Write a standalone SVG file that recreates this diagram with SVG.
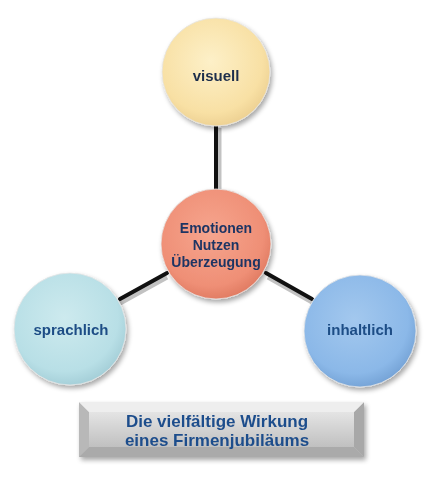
<svg xmlns="http://www.w3.org/2000/svg" width="434" height="484" viewBox="0 0 434 484">
<defs>
<radialGradient id="gY" cx="45%" cy="40%" r="60%"><stop offset="0" stop-color="#fdf0c8"/><stop offset="0.8" stop-color="#f8e0a4"/><stop offset="1" stop-color="#eed294"/></radialGradient>
<radialGradient id="gR" cx="45%" cy="40%" r="60%"><stop offset="0" stop-color="#f6a58e"/><stop offset="0.8" stop-color="#ef8f76"/><stop offset="1" stop-color="#e27d64"/></radialGradient>
<radialGradient id="gC" cx="45%" cy="40%" r="60%"><stop offset="0" stop-color="#cdeaee"/><stop offset="0.8" stop-color="#b8dfe6"/><stop offset="1" stop-color="#a6d0d9"/></radialGradient>
<radialGradient id="gB" cx="45%" cy="40%" r="60%"><stop offset="0" stop-color="#a3c8ee"/><stop offset="0.8" stop-color="#8bb8e8"/><stop offset="1" stop-color="#77a5d8"/></radialGradient>
<linearGradient id="gBan" x1="0" y1="0" x2="0" y2="1"><stop offset="0" stop-color="#e4e4e4"/><stop offset="0.5" stop-color="#d2d2d2"/><stop offset="1" stop-color="#c0c0c0"/></linearGradient>
<filter id="sh" x="-20%" y="-20%" width="150%" height="150%"><feGaussianBlur in="SourceAlpha" stdDeviation="2.5"/><feOffset dx="2" dy="3"/><feComponentTransfer><feFuncA type="linear" slope="0.35"/></feComponentTransfer><feMerge><feMergeNode/><feMergeNode in="SourceGraphic"/></feMerge></filter>
</defs>
<style>
.lbl{font-family:"Liberation Sans",Arial,sans-serif;font-weight:bold;text-anchor:middle}
.c{stroke:#e6e6e6;stroke-width:0.8}
.con{stroke:#111;stroke-width:4;stroke-linecap:round}
.conS{stroke:#9a9a9a;stroke-width:5;opacity:0.6}
</style>
<rect width="434" height="484" fill="#ffffff"/>
<g id="connectors">
<line class="conS" x1="219" y1="128" x2="219" y2="190"/>
<line class="conS" x1="167" y1="277" x2="120" y2="303"/>
<line class="conS" x1="268" y1="277" x2="314" y2="303"/>
<line class="con" x1="216" y1="126" x2="216" y2="190"/>
<line class="con" x1="167" y1="273" x2="120" y2="299"/>
<line class="con" x1="266" y1="273" x2="312" y2="299"/>
</g>
<g id="visuell" filter="url(#sh)">
<circle class="c" cx="216" cy="72" r="54" fill="url(#gY)"/>
<text class="lbl" x="216" y="81" font-size="15" fill="#1f2f4c">visuell</text>
</g>
<g id="center" filter="url(#sh)">
<circle class="c" cx="216" cy="244" r="55" fill="url(#gR)"/>
<text class="lbl" font-size="14" fill="#1f3564"><tspan x="216" y="233">Emotionen</tspan><tspan x="216" y="250">Nutzen</tspan><tspan x="216" y="267">Überzeugung</tspan></text>
</g>
<g id="sprachlich" filter="url(#sh)">
<circle class="c" cx="70" cy="329" r="56" fill="url(#gC)"/>
<text class="lbl" x="71" y="335" font-size="15" fill="#1f4e86">sprachlich</text>
</g>
<g id="inhaltlich" filter="url(#sh)">
<circle class="c" cx="360" cy="331" r="56" fill="url(#gB)"/>
<text class="lbl" x="360" y="335" font-size="15" fill="#1f4e86">inhaltlich</text>
</g>
<g id="banner" filter="url(#sh)">
<rect x="79" y="402" width="285" height="55" fill="url(#gBan)"/>
<polygon points="79,402 89,412 89,447 79,457" fill="#b8b8b8"/>
<polygon points="364,402 354,412 354,447 364,457" fill="#a8a8a8"/>
<polygon points="79,402 364,402 354,412 89,412" fill="#eeeeee"/>
<polygon points="79,457 364,457 354,447 89,447" fill="#aaaaaa"/>
<rect x="89" y="412" width="265" height="35" fill="url(#gBan)"/>
<text class="lbl" font-size="17" fill="#1f4e8c"><tspan x="217" y="427">Die vielfältige Wirkung</tspan><tspan x="217" y="446">eines Firmenjubiläums</tspan></text>
</g>
</svg>
